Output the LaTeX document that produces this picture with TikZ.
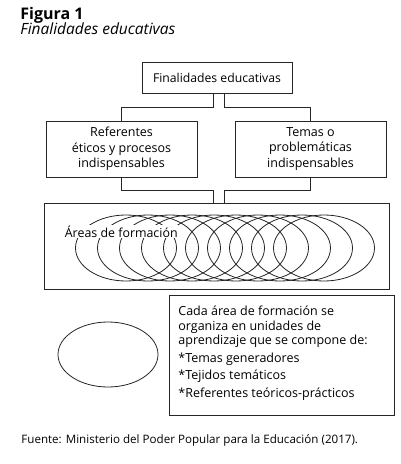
\documentclass[tikz,border=0pt]{standalone}
\usepackage{fontspec}
\setmainfont{Open Sans}
\begin{document}
\begin{tikzpicture}[x=1pt,y=-1pt,
  line width=0.8pt,
  ink/.style={draw=black!85},
  boxtext/.style={font=\fontsize{12.5}{15.5}\selectfont, align=center, inner sep=0pt},
  fbox/.style={ink, rectangle, inner sep=0pt},
  conn/.style={ink}]
\useasboundingbox (0,0) rectangle (400,464);
% titles
\node[anchor=base west, inner sep=0pt, font=\fontsize{16}{17}\selectfont\bfseries] (fig) at (20,19) {Figura 1};
\node[anchor=base west, inner sep=0pt, font=\fontsize{15.5}{17}\selectfont\itshape] (sub) at (20,34) {Finalidades educativas};
% boxes
\node[fbox, minimum width=150pt, minimum height=31pt] (top) at (217,77.5) {};
\node[boxtext, font=\fontsize{12.2}{15.5}\selectfont] (toptx) at (top.center) {Finalidades educativas};
\node[fbox, minimum width=151pt, minimum height=56pt] (lbox) at (121.5,149) {};
\node[boxtext] (lboxtx) at (lbox.center) {Referentes\\éticos y procesos\\indispensables};
\node[fbox, minimum width=151pt, minimum height=56pt] (rbox) at (310.5,149) {};
\node[boxtext] (rboxtx) at (rbox.center) {Temas o\\problemáticas\\indispensables};
\node[fbox, minimum width=345pt, minimum height=86pt] (bbox) at (216.5,246) {};
\node[fbox, minimum width=225pt, minimum height=120pt] (tbox) at (281.5,355) {};
% helper coordinates
\coordinate (a1) at (213,107);
\coordinate (a2) at (224,107);
\coordinate (b1) at (213,190);
\coordinate (b2) at (224,190);
% connectors
\draw[conn] (top.south -| a1) -- (a1) -| (lbox.north);
\draw[conn] (top.south -| a2) -- (a2) -| (rbox.north);
\draw[conn] (lbox.south) |- (b1) -- (bbox.north -| b1);
\draw[conn] (rbox.south) |- (b2) -- (bbox.north -| b2);
% overlapping areas
\foreach \i in {0,...,9}
  \draw[ink] (126+22*\i,248) ellipse [x radius=50.5pt, y radius=33pt];
\node[anchor=base west, fill=white, inner sep=0.5pt, font=\fontsize{12.4}{14}\selectfont] (areas) at (64,237) {Áreas de formación};
% single area
\draw[ink] (108,354.5) ellipse [x radius=50pt, y radius=32.5pt];
% text in box
\node[anchor=north west, inner sep=0pt, align=left, font=\fontsize{12.5}{14.5}\selectfont] (tboxtx) at (178,306)
  {Cada área de formación se\\organiza en unidades de\\aprendizaje que se compone de:\\[3pt]
   *Temas generadores\\[3pt]*Tejidos temáticos\\[3pt]*Referentes teóricos-prácticos};
% source
\node[anchor=base west, inner sep=0pt, font=\fontsize{11.6}{13}\selectfont] (src) at (21,443) {Fuente: Ministerio del Poder Popular para la Educación (2017).};
\end{tikzpicture}
\end{document}
